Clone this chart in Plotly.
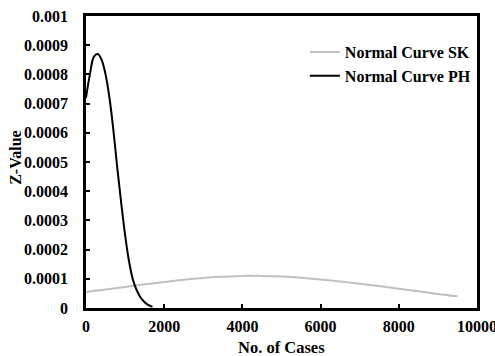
import plotly.graph_objects as go

# Data
sk_x = [0, 500, 1000, 1500, 2000, 2500, 3000, 3500, 4000, 4300, 4500, 5000,
        5500, 6000, 6500, 7000, 7500, 8000, 8500, 9000, 9500]
sk_y = [0.000055, 0.000063, 0.000072, 0.000081, 0.000089, 0.000097, 0.000103,
        0.000107, 0.000110, 0.000110, 0.000110, 0.000108, 0.000104, 0.000098,
        0.000091, 0.000083, 0.000075, 0.000066, 0.000057, 0.000048, 0.000040]

ph_x = [0, 100, 200, 300, 400, 500, 600, 700, 800, 900, 1000, 1100, 1200,
        1300, 1400, 1500, 1600, 1700]
ph_y = [0.00072, 0.00080, 0.00086, 0.00087, 0.00085, 0.00080, 0.00072,
        0.00061, 0.00048, 0.00036, 0.00025, 0.00016, 0.000097, 0.00006,
        0.000035, 0.00002, 0.00001, 0.000004]

y_ticks = [0, 0.0001, 0.0002, 0.0003, 0.0004, 0.0005, 0.0006, 0.0007, 0.0008, 0.0009, 0.001]
y_tick_labels = ["0", "0.0001", "0.0002", "0.0003", "0.0004", "0.0005",
                 "0.0006", "0.0007", "0.0008", "0.0009", "0.001"]
x_ticks = [0, 2000, 4000, 6000, 8000, 10000]
x_tick_labels = ["0", "2000", "4000", "6000", "8000", "10000"]

FONT = "Liberation Serif"

fig = go.Figure()
fig.add_trace(go.Scatter(x=sk_x, y=sk_y, mode="lines", name="Normal Curve SK",
                         line=dict(color="#c0c0c0", width=2, shape="spline")))
fig.add_trace(go.Scatter(x=ph_x, y=ph_y, mode="lines", name="Normal Curve PH",
                         line=dict(color="#000000", width=2, shape="spline")))

fig.update_layout(
    width=495, height=356,
    margin=dict(l=86, r=18, t=16, b=48),
    paper_bgcolor="white", plot_bgcolor="white",
    font=dict(family=FONT, size=16, color="black", weight="bold"),
    showlegend=True,
    legend=dict(x=0.997, xanchor="right", y=0.935, yanchor="top",
                bgcolor="rgba(0,0,0,0)", borderwidth=0,
                font=dict(family=FONT, size=16, color="black", weight="bold"),
                itemwidth=30, tracegroupgap=0),
    annotations=[
        dict(text="Z-Value", xref="paper", yref="paper",
             x=-0.181, y=0.515, xanchor="center", yanchor="middle",
             textangle=-90, showarrow=False,
             font=dict(family=FONT, size=16, color="black", weight="bold")),
        dict(text="No. of Cases", xref="paper", yref="paper",
             x=0.5, y=-0.134, xanchor="center", yanchor="middle",
             showarrow=False,
             font=dict(family=FONT, size=16.5, color="black", weight="bold")),
    ],
)
fig.update_xaxes(
    range=[0, 10000], tickvals=x_ticks, ticktext=x_tick_labels,
    showgrid=False, zeroline=False, showline=True, linecolor="black",
    linewidth=2.5, mirror=True, ticks="inside", ticklen=4, tickwidth=2,
    tickcolor="black", ticklabelstandoff=2, automargin=False,
    ticklabeloverflow="allow",
)
fig.update_yaxes(
    range=[0, 0.001], tickvals=y_ticks, ticktext=y_tick_labels,
    showgrid=False, zeroline=False, showline=True, linecolor="black",
    linewidth=2.5, mirror=True, ticks="inside", ticklen=4, tickwidth=2,
    tickcolor="black", ticklabelstandoff=12, automargin=False,
    ticklabeloverflow="allow",
)

fig.write_html(
    "out.html",
    config={"displayModeBar": False},
    post_script="document.body.style.margin='0';document.body.style.overflow='hidden';",
)
